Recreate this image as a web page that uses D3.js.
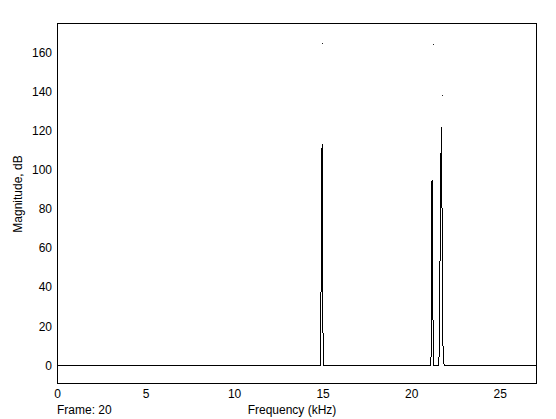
<!DOCTYPE html>
<html>
<head>
<meta charset="utf-8">
<script src="https://cdn.jsdelivr.net/npm/d3@7"></script>
<style>
  body { margin: 0; background: #fff; }
  svg text { font-family: Arial, "Liberation Sans", sans-serif; font-size: 12px; fill: #000; }
</style>
</head>
<body>
<div id="chart"></div>
<script>
// Spectrum samples, [frequency kHz, magnitude dB]; floor is 0 dB.
var spectrum = [
  [0, 0], [14.87, 0], [14.9, 14], [14.935, 97], [14.97, 113], [15.0, 30], [15.05, 0],
  [21.11, 0], [21.14, 12], [21.17, 94], [21.195, 94.5], [21.22, 33], [21.27, 0],
  [21.56, 0], [21.58, 6.6], [21.63, 54], [21.7, 122], [21.75, 73], [21.8, 8], [21.86, 0],
  [27.05, 0]
];
// faint isolated marks above the peaks
var dots = [[14.98, 165], [21.22, 164.3], [21.72, 138]];

var xTicks = [0, 5, 10, 15, 20, 25];
var yTicks = [0, 20, 40, 60, 80, 100, 120, 140, 160];
var xDomain = [0, 27.05];
var yDomain = [-9, 175];

var frameLabel = 'Frame: 20';
var xLabel = 'Frequency (kHz)';
var yLabel = 'Magnitude, dB';

var width = 556, height = 419;
var box = { left: 57, top: 23, right: 536, bottom: 383 };

var svg = d3.select('#chart').append('svg')
  .attr('width', width)
  .attr('height', height);

svg.append('rect')
  .attr('width', width)
  .attr('height', height)
  .attr('fill', '#fff');

var x = d3.scaleLinear().domain(xDomain).range([box.left, box.right]);
var y = d3.scaleLinear().domain(yDomain).range([box.bottom, box.top]);

// axes without tick marks, labels only
var xAxis = d3.axisBottom(x).tickValues(xTicks).tickSize(0).tickPadding(6)
  .tickFormat(d3.format('d'));
var yAxis = d3.axisLeft(y).tickValues(yTicks).tickSize(0).tickPadding(5)
  .tickFormat(d3.format('d'));

var gx = svg.append('g')
  .attr('transform', 'translate(0,' + box.bottom + ')')
  .call(xAxis);
gx.select('.domain').remove();
gx.selectAll('text').style('font-size', '12px').attr('font-family', null);

var gy = svg.append('g')
  .attr('transform', 'translate(' + box.left + ',0)')
  .call(yAxis);
gy.select('.domain').remove();
gy.selectAll('text').style('font-size', '12px').attr('font-family', null);

// the spectrum trace
var line = d3.line()
  .x(function(d) { return x(d[0]); })
  .y(function(d) { return y(d[1]); });

svg.append('path')
  .datum(spectrum)
  .attr('d', line)
  .attr('fill', 'none')
  .attr('stroke', '#000')
  .attr('stroke-width', 1)
  .attr('shape-rendering', 'crispEdges');

svg.selectAll('rect.dot')
  .data(dots)
  .enter()
  .append('rect')
  .attr('class', 'dot')
  .attr('x', function(d) { return Math.round(x(d[0])); })
  .attr('y', function(d) { return Math.round(y(d[1])); })
  .attr('width', 1)
  .attr('height', 1)
  .attr('fill', '#222');

// plot box
svg.append('rect')
  .attr('x', box.left + 0.5)
  .attr('y', box.top + 0.5)
  .attr('width', box.right - box.left)
  .attr('height', box.bottom - box.top)
  .attr('fill', 'none')
  .attr('stroke', '#000')
  .attr('stroke-width', 1)
  .attr('shape-rendering', 'crispEdges');

svg.append('text')
  .attr('x', box.left)
  .attr('y', 414)
  .text(frameLabel);

svg.append('text')
  .attr('x', 292)
  .attr('y', 414)
  .attr('text-anchor', 'middle')
  .text(xLabel);

svg.append('text')
  .attr('transform', 'translate(22,194) rotate(-90)')
  .attr('text-anchor', 'middle')
  .text(yLabel);
</script>
</body>
</html>
